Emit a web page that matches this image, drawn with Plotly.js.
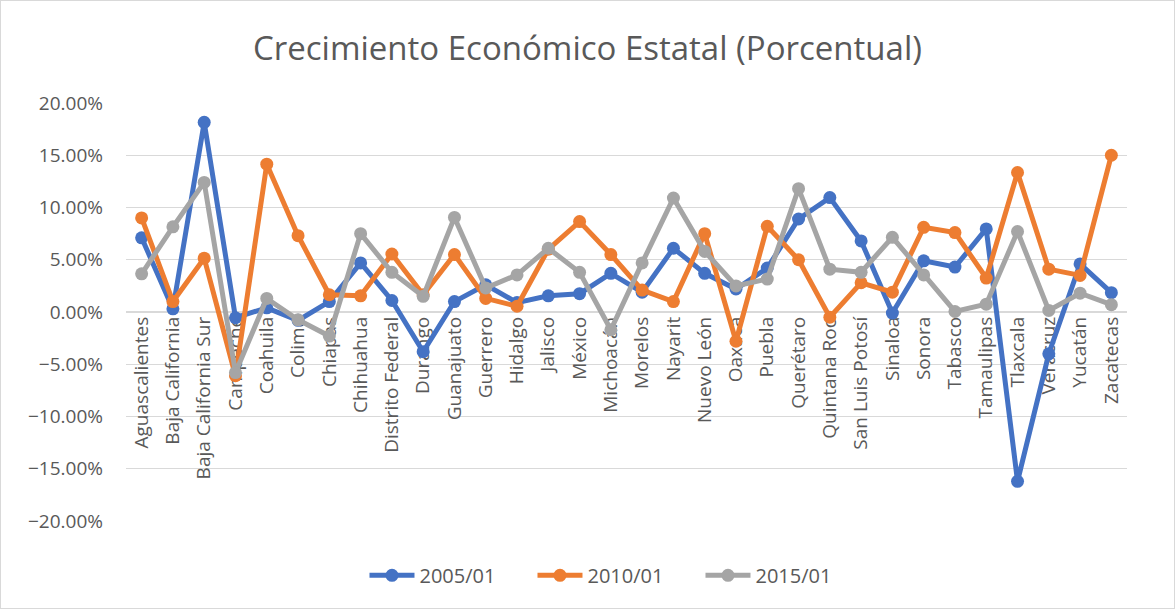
<!DOCTYPE html>
<html>
<head>
<meta charset="utf-8">
<script src="https://cdn.plot.ly/plotly-3.0.1.min.js"></script>
<style>
html,body{margin:0;padding:0;background:#fff;}
#chart{width:1173px;height:607px;border:1px solid #D9D9D9;}
</style>
</head>
<body>
<div id="chart"></div>
<script>
const estados = ["Aguascalientes","Baja California","Baja California Sur","Campeche","Coahuila","Colima","Chiapas","Chihuahua","Distrito Federal","Durango","Guanajuato","Guerrero","Hidalgo","Jalisco","México","Michoacán","Morelos","Nayarit","Nuevo León","Oaxaca","Puebla","Querétaro","Quintana Roo","San Luis Potosí","Sinaloa","Sonora","Tabasco","Tamaulipas","Tlaxcala","Veracruz","Yucatán","Zacatecas"];
const serie2005 = [7.1,0.3,18.15,-0.55,0.4,-0.8,1.0,4.7,1.1,-3.8,1.0,2.6,0.9,1.55,1.75,3.7,1.9,6.1,3.7,2.2,4.2,8.9,10.95,6.8,-0.1,4.9,4.3,7.95,-16.2,-4.0,4.6,1.85];
const serie2010 = [9.0,1.0,5.15,-6.1,14.15,7.3,1.65,1.55,5.55,1.65,5.5,1.3,0.55,6.0,8.65,5.5,2.1,1.0,7.5,-2.8,8.2,5.0,-0.5,2.8,1.9,8.1,7.6,3.25,13.35,4.1,3.5,15.0];
const serie2015 = [3.65,8.15,12.4,-5.8,1.3,-0.75,-2.3,7.5,3.8,1.5,9.05,2.3,3.55,6.1,3.8,-1.7,4.7,10.9,5.8,2.5,3.15,11.8,4.1,3.8,7.15,3.55,0.05,0.75,7.7,0.15,1.8,0.7];
const nombres = ["2005/01","2010/01","2015/01"];
const colores = ["#4472C4","#ED7D31","#A5A5A5"];
const yTicks = [-20,-15,-10,-5,0,5,10,15,20];

const series = [serie2005, serie2010, serie2015];
const traces = series.map((s,i)=>({
  type:'scatter', mode:'lines+markers', name:nombres[i],
  x: estados, y: s.map(v=>v/100),
  line:{color:colores[i], width:5},
  marker:{color:colores[i], size:13},
  hoverinfo:'skip'
}));

const layout = {
  width:1173, height:607,
  paper_bgcolor:'#fff', plot_bgcolor:'#fff',
  margin:{l:125,r:47,t:102,b:87},
  font:{family:'"Open Sans", sans-serif', color:'#595959', size:19},
  title:{text:'Crecimiento Económico Estatal (Porcentual)', x:0.5, xanchor:'center', y:0.922, yanchor:'middle',
         font:{size:33, color:'#595959', family:'"Open Sans", sans-serif'}},
  showlegend:true,
  legend:{orientation:'h', x:0.49, xanchor:'center', y:-0.13, yanchor:'middle', font:{size:20,color:'#595959'},
          itemwidth:45, entrywidth:108, entrywidthmode:'pixels', tracegroupgap:0},
  xaxis:{type:'category', range:[-0.5,31.5], anchor:'free', position:0.5, tickangle:-90,
         showgrid:false, showline:false, zeroline:false, ticks:'', ticklen:0,
         tickfont:{size:19,color:'#595959'}, layer:'below traces', fixedrange:true},
  yaxis:{range:[-0.2,0.2], tickvals:yTicks.map(v=>v/100), tickformat:'.2%',
         showgrid:true, gridcolor:'#D9D9D9', gridwidth:1.3, zeroline:true, zerolinecolor:'#D9D9D9', zerolinewidth:1.3,
         showline:false, ticks:'', tickfont:{size:19,color:'#595959'}, ticklabelstandoff:22, fixedrange:true}
};
Plotly.newPlot('chart', traces, layout, {displayModeBar:false, staticPlot:true});
</script>
</body>
</html>
